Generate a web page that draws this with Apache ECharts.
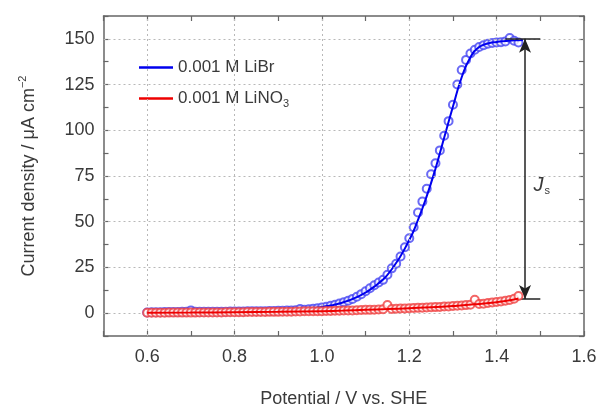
<!DOCTYPE html>
<html>
<head>
<meta charset="utf-8">
<script src="https://cdn.jsdelivr.net/npm/echarts@6/dist/echarts.min.js"></script>
<style>html,body{margin:0;padding:0;background:#fff}#c{width:600px;height:407px}</style>
</head>
<body>
<div id="c"></div>
<script>
// ---- data ----
const potentials = [0.60,0.61,0.62,0.63,0.64,0.65,0.66,0.67,0.68,0.69,
  0.70,0.71,0.72,0.73,0.74,0.75,0.76,0.77,0.78,0.79,
  0.80,0.81,0.82,0.83,0.84,0.85,0.86,0.87,0.88,0.89,
  0.90,0.91,0.92,0.93,0.94,0.95,0.96,0.97,0.98,0.99,
  1.00,1.01,1.02,1.03,1.04,1.05,1.06,1.07,1.08,1.09,
  1.10,1.11,1.12,1.13,1.14,1.15,1.16,1.17,1.18,1.19,
  1.20,1.21,1.22,1.23,1.24,1.25,1.26,1.27,1.28,1.29,
  1.30,1.31,1.32,1.33,1.34,1.35,1.36,1.37,1.38,1.39,
  1.40,1.41,1.42,1.43,1.44,1.45];
const librMeasured = [0.4,0.5,0.5,0.5,0.6,0.6,0.6,0.6,0.7,0.7,
  1.5,0.7,0.7,0.7,0.8,0.8,0.8,0.8,0.8,0.9,
  0.9,0.9,0.9,1.0,1.0,1.0,1.1,1.1,1.2,1.2,
  1.3,1.3,1.4,1.5,1.6,2.2,1.9,2.1,2.4,2.7,
  3.1,3.5,4.0,4.6,5.3,6.0,6.8,7.8,9.0,10.4,
  12.0,13.6,15.3,16.8,18.2,21.0,24.5,27.0,31.0,36.0,
  41.0,47.0,55.0,61.0,68.0,76.0,82.0,89.0,97.0,105.0,
  114.0,125.0,133.0,138.5,142.0,144.0,145.5,146.5,147.3,147.8,
  148.0,148.2,148.6,150.5,149.0,148.0];
const lino3Measured = [0.2,0.2,0.2,0.2,0.2,0.3,0.3,0.3,0.3,0.3,
  0.3,0.3,0.4,0.4,0.4,0.4,0.4,0.4,0.5,0.5,
  0.5,0.5,0.5,0.6,0.6,0.6,0.6,0.6,0.7,0.7,
  0.7,0.8,0.8,0.8,0.9,0.9,1.0,1.0,1.0,1.1,
  1.1,1.2,1.2,1.3,1.3,1.4,1.5,1.5,1.6,1.7,
  1.8,1.8,1.9,2.0,2.1,4.4,2.3,2.4,2.5,2.6,
  2.7,2.8,2.9,3.0,3.1,3.2,3.3,3.4,3.6,3.7,
  3.9,4.0,4.2,4.4,4.6,7.3,5.0,5.2,5.5,5.8,
  6.1,6.4,6.8,7.2,7.9,9.4];
const libFitPotentials = [0.60,0.65,0.70,0.75,0.80,0.85,0.90,0.95,1.00,1.04,1.08,1.12,1.16,1.20,1.22,1.24,1.26,1.28,1.30,1.32,1.34,1.36,1.38,1.40,1.42,1.44,1.46];
const libFit = [0.3,0.4,0.5,0.6,0.8,1.0,1.4,2.1,3.4,5.3,8.8,14.5,24,40,51,64,79,96,113,129,140,145.5,147.5,148.3,148.8,149.2,149.4];
const linFitPotentials = [0.60,0.70,0.80,0.90,1.00,1.05,1.10,1.15,1.20,1.25,1.30,1.35,1.40,1.43,1.45];
const linFit = [0.2,0.3,0.5,0.7,1.1,1.4,1.8,2.2,2.7,3.2,3.9,4.8,6.0,7.0,8.0];
const xTickLabels = [0.6,0.8,1.0,1.2,1.4,1.6];
const yTickLabels = [0,25,50,75,100,125,150];
const jsPotential = 1.465, jsTop = 150, jsBottom = 7.7, capFrom = 1.42, capTo = 1.50;
const jsLabelAt = [1.503, 70];

const FONT = 'Liberation Sans';
const TXT = '#3a3a3a';
const AX = '#666';
const pairs = (xs, ys) => xs.map((x, i) => [x, ys[i]]);
const isTick = (v, list) => list.some(t => Math.abs(t - v) < 1e-6);

const chart = echarts.init(document.getElementById('c'), null, {renderer: 'canvas'});
const axisCommon = {
  axisLine: {show: true, onZero: false, lineStyle: {color: AX, width: 1.5}},
  axisTick: {show: true, inside: true, length: 5, lineStyle: {color: AX, width: 1.2}},
  splitLine: {show: false}
};
chart.setOption({
  animation: false,
  backgroundColor: '#fff',
  grid: {left: 103.5, right: 16, top: 16, bottom: 71, outerBoundsMode: 'none', containLabel: false},
  legend: {
    orient: 'vertical', left: 134, top: 54, icon: 'rect', itemWidth: 34, itemHeight: 2.5, itemGap: 14,
    data: ['0.001 M LiBr', '0.001 M LiNO3'],
    formatter: n => n === '0.001 M LiNO3' ? '{a|0.001 M LiNO}{sub|3}' : '{a|0.001 M LiBr}',
    textStyle: {
      color: TXT, fontFamily: FONT, fontSize: 17,
      rich: {
        a: {fontFamily: FONT, fontSize: 17, color: TXT, height: 20},
        sub: {fontFamily: FONT, fontSize: 11, color: TXT, verticalAlign: 'bottom', padding: [10, 0, 0, 0]}
      }
    }
  },
  xAxis: [
    Object.assign({}, axisCommon, {
      type: 'value', min: 0.5, max: 1.6, interval: 0.1, position: 'bottom',
      name: 'Potential / V vs. SHE', nameLocation: 'middle', nameGap: 54,
      nameTextStyle: {color: TXT, fontFamily: FONT, fontSize: 18},
      axisLabel: {show: true, margin: 12, color: TXT, fontFamily: FONT, fontSize: 18,
        formatter: v => isTick(v, xTickLabels) ? v.toFixed(1) : ''}
    }),
    Object.assign({}, axisCommon, {
      type: 'value', min: 0.5, max: 1.6, interval: 0.1, position: 'top',
      axisLabel: {show: false}
    })
  ],
  yAxis: [
    Object.assign({}, axisCommon, {
      type: 'value', min: -12.5, max: 162.5, interval: 12.5, position: 'left',
      name: '{a|Current density / μA cm}{sup|−2}', nameLocation: 'middle', nameGap: 63,
      nameTextStyle: {color: TXT, fontFamily: FONT, fontSize: 18,
        rich: {
          a: {fontFamily: FONT, fontSize: 18, color: TXT},
          sup: {fontFamily: FONT, fontSize: 11, color: TXT, verticalAlign: 'top', padding: [0, 0, 12, 0]}
        }},
      axisLabel: {show: true, margin: 9, color: TXT, fontFamily: FONT, fontSize: 18,
        formatter: v => isTick(v, yTickLabels) ? String(Math.round(v)) : ''}
    }),
    Object.assign({}, axisCommon, {
      type: 'value', min: -12.5, max: 162.5, interval: 12.5, position: 'right',
      axisLabel: {show: false}
    })
  ],
  series: [
    {
      name: 'grid', type: 'line', data: [], silent: true, z: 1,
      markLine: {
        silent: true, symbol: 'none', label: {show: false}, animation: false,
        lineStyle: {color: '#b8b8b8', type: [2, 3], width: 1},
        data: xTickLabels.filter(v => v < 1.6).map(v => ({xAxis: v}))
          .concat(yTickLabels.map(v => ({yAxis: v})))
      }
    },
    {
      name: 'LiBr data', type: 'scatter', data: pairs(potentials, librMeasured),
      symbol: 'emptyCircle', symbolSize: 8, z: 3,
      itemStyle: {color: '#4545f2', borderWidth: 1.2}
    },
    {
      name: '0.001 M LiBr', type: 'line', data: pairs(libFitPotentials, libFit), smooth: true,
      showSymbol: false, symbol: 'none', z: 4,
      lineStyle: {color: '#0000ee', width: 2}, itemStyle: {color: '#0000ee'}
    },
    {
      name: 'LiNO3 data', type: 'scatter', data: pairs(potentials, lino3Measured),
      symbol: 'emptyCircle', symbolSize: 8, z: 5,
      itemStyle: {color: '#f04040', borderWidth: 1.2}
    },
    {
      name: '0.001 M LiNO3', type: 'line', data: pairs(linFitPotentials, linFit), smooth: true,
      showSymbol: false, symbol: 'none', z: 6,
      lineStyle: {color: '#ee0000', width: 2}, itemStyle: {color: '#ee0000'}
    },
    {
      name: 'annot', type: 'line', data: [], silent: true, z: 7,
      markLine: {
        silent: true, animation: false, label: {show: false},
        lineStyle: {color: '#222', width: 1.5, type: 'solid'},
        data: [
          [{coord: [capFrom, jsTop], symbol: 'none'}, {coord: [capTo, jsTop], symbol: 'none'}],
          [{coord: [capFrom, jsBottom], symbol: 'none'}, {coord: [capTo, jsBottom], symbol: 'none'}],
          [{coord: [jsPotential, jsTop], symbol: 'arrow', symbolSize: [9, 14]},
           {coord: [jsPotential, jsBottom], symbol: 'arrow', symbolSize: [9, 14]}]
        ]
      },
      markPoint: {
        silent: true, animation: false, symbol: 'circle', symbolSize: 0,
        label: {show: true, position: 'inside', formatter: '{j|J}{s|s}',
          rich: {
            j: {fontFamily: FONT, fontStyle: 'italic', fontSize: 20, color: TXT},
            s: {fontFamily: FONT, fontSize: 11, color: TXT, verticalAlign: 'bottom', padding: [12, 0, 0, 1]}
          }},
        data: [{coord: jsLabelAt}]
      }
    }
  ]
});
</script>
</body>
</html>
